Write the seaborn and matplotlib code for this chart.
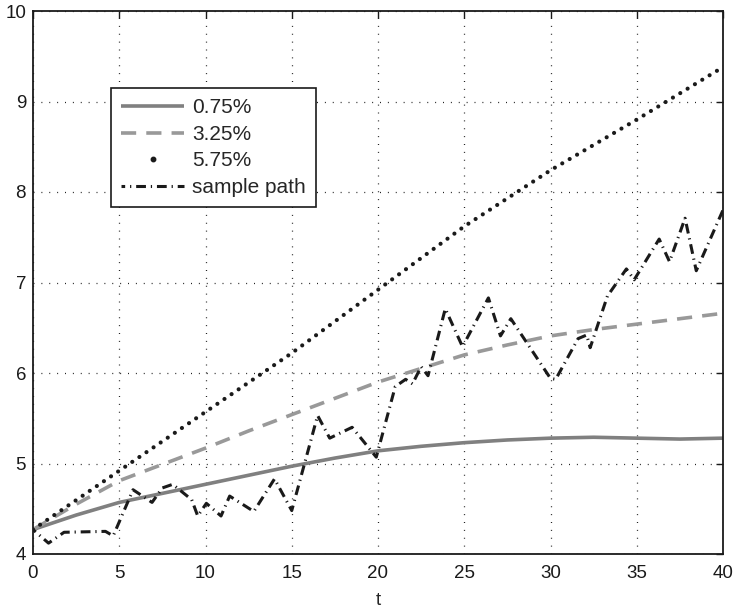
import matplotlib
matplotlib.use("Agg")
import matplotlib.pyplot as plt
from matplotlib.lines import Line2D
import seaborn as sns
import pandas as pd

# ---- data ----
t_curve = [0, 2.5, 5, 7.5, 10, 12.5, 15, 17.5, 20, 22.5, 25, 27.5, 30, 32.5, 35, 37.5, 40]
rate_075 = [4.27, 4.43, 4.57, 4.67, 4.77, 4.87, 4.97, 5.06, 5.14, 5.19, 5.23, 5.26, 5.28, 5.29, 5.28, 5.27, 5.28]
rate_325 = [4.27, 4.55, 4.81, 4.99, 5.17, 5.36, 5.54, 5.72, 5.90, 6.05, 6.20, 6.31, 6.41, 6.48, 6.54, 6.60, 6.66]
t_dot = [0, 5, 10, 15, 20, 25, 30, 35, 40]
rate_575 = [4.27, 4.92, 5.57, 6.22, 6.92, 7.62, 8.24, 8.80, 9.38]

t_path = [0, 0.9, 1.8, 4.2, 4.65, 5.8, 6.9, 7.5, 8.1, 9.2, 9.55, 10.05, 10.9, 11.4, 12.8,
          14.0, 15.0, 16.5, 17.2, 18.5, 19.9, 21.0, 21.6, 22.0, 22.5, 22.9, 23.9, 24.9,
          26.4, 27.1, 27.7, 30.0, 30.3, 31.6, 32.1, 32.3, 33.3, 34.4, 34.85, 36.3, 36.9,
          37.8, 38.45, 40.0]
v_path = [4.27, 4.12, 4.24, 4.25, 4.20, 4.71, 4.57, 4.73, 4.77, 4.60, 4.42, 4.56, 4.42, 4.64, 4.47,
          4.83, 4.48, 5.53, 5.28, 5.40, 5.07, 5.85, 5.93, 5.88, 6.07, 5.97, 6.71, 6.29,
          6.83, 6.41, 6.60, 5.94, 5.93, 6.38, 6.42, 6.28, 6.85, 7.15, 7.03, 7.48, 7.23,
          7.71, 7.13, 7.80]

x_ticks = [0, 5, 10, 15, 20, 25, 30, 35, 40]
y_ticks = [4, 5, 6, 7, 8, 9, 10]
labels = ["0.75%", "3.25%", "5.75%", "sample path"]

sns.set_style("white")
plt.rcParams["font.family"] = ["Liberation Sans", "DejaVu Sans"]

fig = plt.figure(figsize=(7.36, 6.14), dpi=100)
ax = fig.add_axes([33 / 736, 1 - 554 / 614, 690 / 736, 543 / 614])

df_curve = pd.DataFrame({"t": t_curve, "a": rate_075, "b": rate_325})
df_dot = pd.DataFrame({"t": t_dot, "c": rate_575})
df_path = pd.DataFrame({"t": t_path, "v": v_path})

sns.lineplot(data=df_curve, x="t", y="a", ax=ax, color="#808080", lw=2.6,
             label=labels[0], solid_capstyle="butt")
sns.lineplot(data=df_curve, x="t", y="b", ax=ax, color="#999999", lw=2.6,
             label=labels[1], linestyle=(0, (4.2, 2.8)))
sns.lineplot(data=df_dot, x="t", y="c", ax=ax, color="#1a1a1a", lw=3.0,
             label=labels[2], linestyle=(0, (0.01, 2.05)), dash_capstyle="round")
sns.lineplot(data=df_path, x="t", y="v", ax=ax, color="#1a1a1a", lw=2.2,
             label=labels[3], linestyle=(2.0, (3.2, 1.6, 0.4, 1.6)))

ax.set_xlim(0, 40)
ax.set_ylim(4, 10)
ax.set_xticks(x_ticks)
ax.set_yticks(y_ticks)
ax.set_xticklabels([str(v) for v in x_ticks])
ax.set_yticklabels([str(v) for v in y_ticks])
ax.tick_params(direction="in", length=5, width=1, labelsize=13.5, top=True, right=True,
               colors="#1a1a1a")
ax.tick_params(axis="x", pad=8)
ax.tick_params(axis="y", pad=5)
ax.grid(True, color="#222222", linestyle=(0, (0.8, 5.5)), lw=0.9)
for s in ax.spines.values():
    s.set_visible(True)
    s.set_color("#1a1a1a")
    s.set_linewidth(1.3)
ax.set_xlabel("t", fontsize=13.5, labelpad=7)
ax.set_ylabel("")

handles, labs = ax.get_legend_handles_labels()
handles[2] = Line2D([], [], linestyle="none", marker="o", markersize=3.2, color="#1a1a1a")
leg = ax.legend(handles, labs, loc="upper left",
                bbox_to_anchor=((111 - 33) / 690, (554 - 88) / 543),
                fontsize=15, frameon=True, fancybox=False, handlelength=3.0,
                borderpad=0.5, labelspacing=0.36, handletextpad=0.4, borderaxespad=0)
leg.get_frame().set_edgecolor("#1a1a1a")
leg.get_frame().set_linewidth(1.2)
leg.get_frame().set_alpha(1)

fig.savefig("out.png", dpi=100)
